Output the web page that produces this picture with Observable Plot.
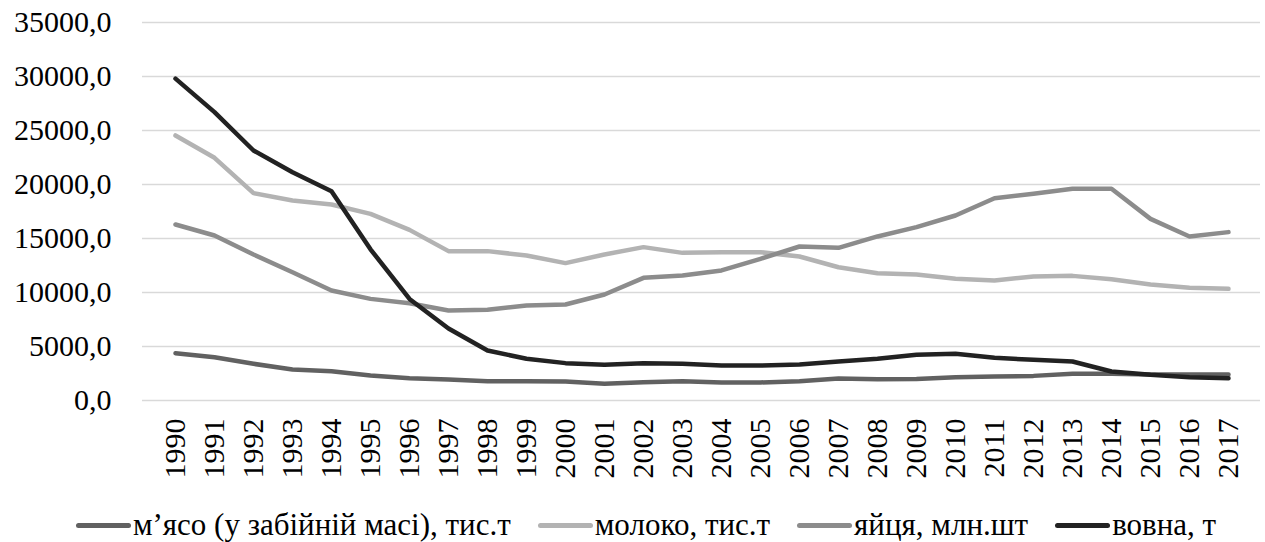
<!DOCTYPE html>
<html>
<head>
<meta charset="utf-8">
<script src="https://cdn.jsdelivr.net/npm/d3@7"></script>
<script src="https://cdn.jsdelivr.net/npm/@observablehq/plot@0.6"></script>
<style>
  html, body { margin: 0; padding: 0; background: #fff; }
  #wrap { width: 1265px; height: 542px; position: relative; font-family: "Liberation Serif", "Times New Roman", serif; }
  #legend { position: absolute; left: 0; top: 507px; width: 1265px; display: flex; justify-content: center; align-items: center; padding-left: 27px; box-sizing: border-box; font-size: 31px; color: #000; white-space: nowrap; }
  .item { display: flex; align-items: center; margin: 0 13.5px; }
  .sw { width: 55px; height: 5px; border-radius: 3px; margin-right: 2px; }
</style>
</head>
<body>
<div id="wrap"><div id="chart"></div><div id="legend"></div></div>
<script>
const years = ["1990","1991","1992","1993","1994","1995","1996","1997","1998","1999","2000","2001","2002","2003","2004","2005","2006","2007","2008","2009","2010","2011","2012","2013","2014","2015","2016","2017"];
const seriesNames = ["м’ясо (у забійній масі), тис.т", "молоко, тис.т", "яйця, млн.шт", "вовна, т"];
const seriesColors = ["#616161", "#b3b3b3", "#8c8c8c", "#222222"];
const meat = [4380,4010,3400,2870,2710,2315,2070,1940,1790,1790,1760,1540,1700,1790,1670,1670,1790,2040,1975,2000,2160,2220,2280,2470,2470,2410,2410,2410];
const milk = [24540,22470,19200,18520,18150,17280,15800,13830,13830,13430,12720,13520,14200,13670,13730,13730,13330,12340,11790,11670,11270,11110,11480,11540,11230,10740,10430,10340];
const eggs = [16300,15280,13520,11880,10190,9410,9000,8330,8400,8800,8890,9810,11360,11570,12040,13120,14260,14140,15190,16050,17130,18730,19140,19600,19600,16820,15190,15590];
const wool = [29800,26700,23150,21140,19380,14000,9400,6660,4630,3860,3460,3300,3460,3400,3240,3240,3330,3610,3860,4230,4320,3950,3770,3610,2685,2380,2160,2065];
const yTicks = [0,5000,10000,15000,20000,25000,30000,35000];

const allSeries = [meat, milk, eggs, wool];
const data = [];
allSeries.forEach((vals, si) => {
  vals.forEach((v, i) => data.push({year: years[i], value: v, series: seriesNames[si]}));
});

const fmt = v => d3.format(".1f")(v).replace(".", ",");

const chart = Plot.plot({
  width: 1265,
  height: 500,
  marginLeft: 142,
  marginRight: 5,
  marginTop: 22,
  marginBottom: 100,
  style: {fontFamily: "'Liberation Serif', 'Times New Roman', serif", fontSize: "30px", color: "#000", background: "#fff", overflow: "visible"},
  x: {type: "point", domain: years, padding: 0.5},
  y: {domain: [0, 35000]},
  color: {domain: seriesNames, range: seriesColors},
  marks: [
    Plot.gridY(yTicks, {stroke: "#d9d9d9", strokeOpacity: 1, strokeWidth: 1.7}),
    Plot.axisY(yTicks, {tickSize: 0, tickPadding: 31, tickFormat: fmt, fontSize: 30, fontFamily: "Liberation Serif", label: null}),
    Plot.axisX({tickSize: 0, tickRotate: -90, tickPadding: 18, fontSize: 30, fontFamily: "Liberation Serif", label: null}),
    Plot.line(data, {x: "year", y: "value", z: "series", stroke: "series", strokeWidth: 4.5, strokeLinejoin: "round", strokeLinecap: "round"})
  ]
});
document.getElementById("chart").appendChild(chart);

const legend = document.getElementById("legend");
seriesNames.forEach((name, i) => {
  const item = document.createElement("div");
  item.className = "item";
  const sw = document.createElement("div");
  sw.className = "sw";
  sw.style.background = seriesColors[i];
  const t = document.createElement("span");
  t.textContent = name;
  item.appendChild(sw);
  item.appendChild(t);
  legend.appendChild(item);
});
</script>
</body>
</html>
